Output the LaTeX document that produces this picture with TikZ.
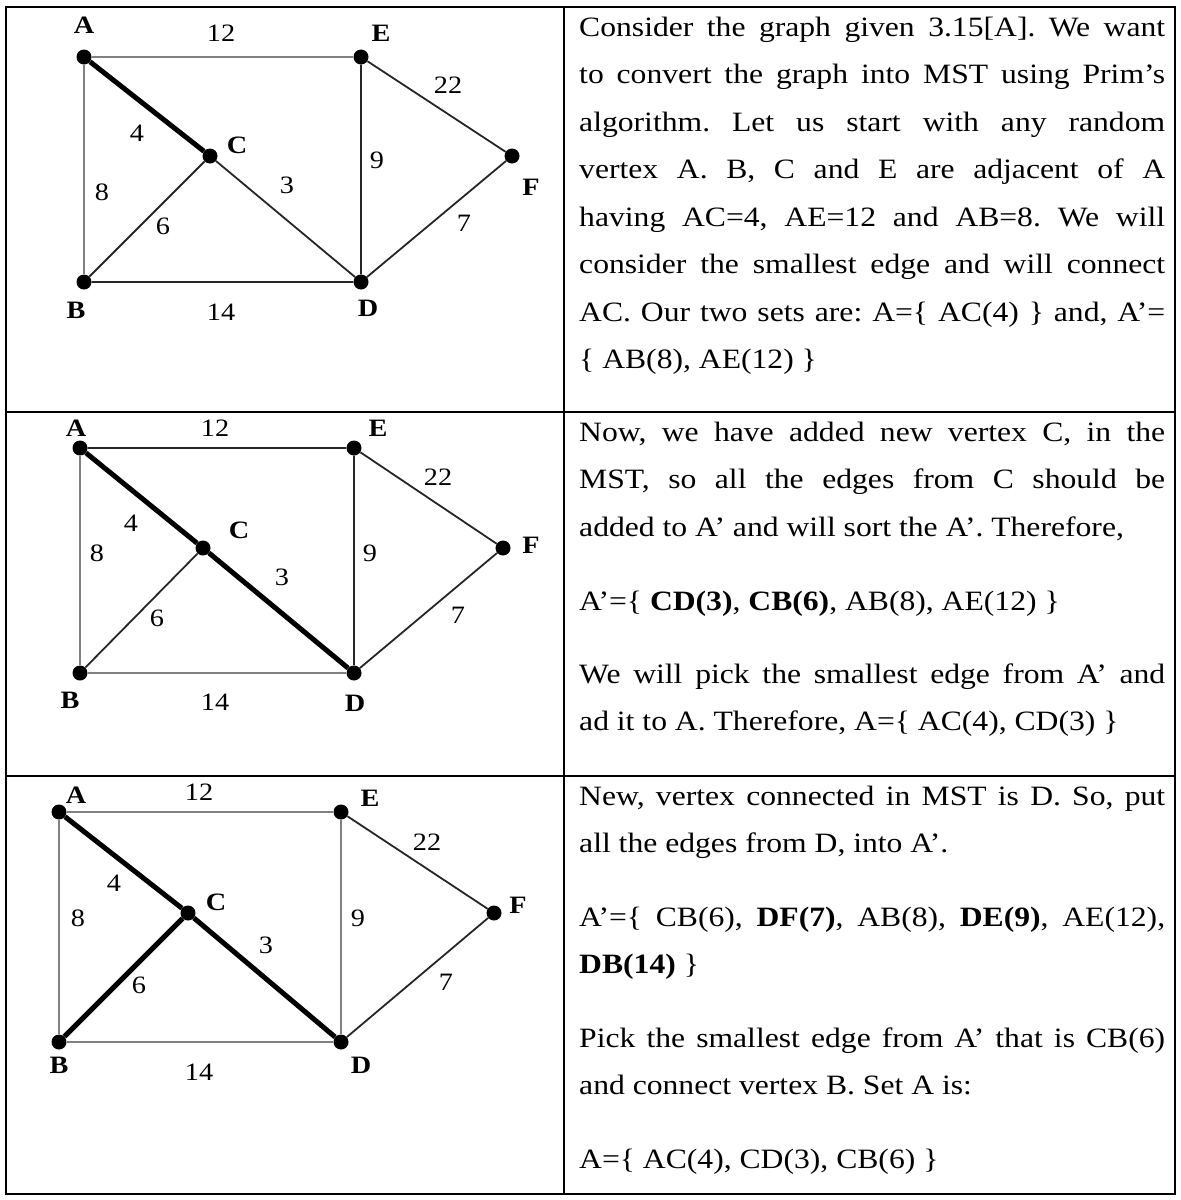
\documentclass[tikz,border=0pt]{standalone}
\usepackage{fontspec}
\setmainfont{Liberation Serif}[FakeStretch=1.13]
\tolerance=9999
\frenchspacing

\begin{document}
\begin{tikzpicture}[x=1pt,y=-1pt,
    vtx/.style={circle,fill=black,inner sep=0pt,minimum size=15pt},
    vname/.style={inner sep=0pt,font=\fontsize{25}{25}\selectfont\bfseries},
    wt/.style={inner sep=0pt,font=\fontsize{25}{25}\selectfont},
    link/.style={line width=1.8pt,black!85},
    greylink/.style={line width=2pt,black!50},
    mstlink/.style={line width=5pt,black},
    para/.style={anchor=base west,inner sep=0pt,text width=586pt,align=justify,
      font=\fontsize{28}{47.5}\selectfont}]
  \useasboundingbox (0,0) rectangle (1181,1200);
  \draw[line width=2pt] (6,7) rectangle (1175,1194);
  \draw[line width=2pt] (564,7) -- (564,1194);
  \draw[line width=2pt] (6,412) -- (1175,412);
  \draw[line width=2pt] (6,776) -- (1175,776);

  \node[vtx] (a1) at (84,57) {};
  \node[vtx] (e1) at (361,57) {};
  \node[vtx] (c1) at (210,156) {};
  \node[vtx] (f1) at (512,156) {};
  \node[vtx] (b1) at (84,282) {};
  \node[vtx] (d1) at (361,282) {};
  \node[vname] (na1) at (84,25) {A};
  \node[vname] (ne1) at (381,33) {E};
  \node[vname] (nc1) at (237,145) {C};
  \node[vname] (nf1) at (531,187) {F};
  \node[vname] (nb1) at (76,310) {B};
  \node[vname] (nd1) at (368,308) {D};
  \draw[greylink] (a1) -- (e1) (a1) -- (b1);
  \draw[link] (b1) -- (d1) (c1) -- (b1) (c1) -- (d1) (e1) -- (d1) (e1) -- (f1) (f1) -- (d1);
  \draw[mstlink] (a1) -- (c1);
  \node[wt] (w1ae) at (221,33) {12};
  \node[wt] (w1ef) at (448,85) {22};
  \node[wt] (w1ac) at (137,133) {4};
  \node[wt] (w1ab) at (102,192) {8};
  \node[wt] (w1bc) at (163,226) {6};
  \node[wt] (w1cd) at (287,185) {3};
  \node[wt] (w1de) at (377,160) {9};
  \node[wt] (w1df) at (464,223) {7};
  \node[wt] (w1bd) at (221,312) {14};

  \node[vtx] (a2) at (80,448) {};
  \node[vtx] (e2) at (354,448) {};
  \node[vtx] (c2) at (203,548) {};
  \node[vtx] (f2) at (503,548) {};
  \node[vtx] (b2) at (80,673) {};
  \node[vtx] (d2) at (354,673) {};
  \node[vname] (na2) at (76,428) {A};
  \node[vname] (ne2) at (378,428) {E};
  \node[vname] (nc2) at (239,530) {C};
  \node[vname] (nf2) at (531,545) {F};
  \node[vname] (nb2) at (70,700) {B};
  \node[vname] (nd2) at (355,703) {D};
  \draw[greylink] (a2) -- (b2) (b2) -- (d2);
  \draw[link] (a2) -- (e2) (c2) -- (b2) (e2) -- (d2) (e2) -- (f2) (f2) -- (d2);
  \draw[mstlink] (a2) -- (c2) (c2) -- (d2);
  \node[wt] (w2ae) at (215,428) {12};
  \node[wt] (w2ef) at (438,477) {22};
  \node[wt] (w2ac) at (131,523) {4};
  \node[wt] (w2ab) at (97,553) {8};
  \node[wt] (w2bc) at (157,618) {6};
  \node[wt] (w2cd) at (282,577) {3};
  \node[wt] (w2de) at (370,553) {9};
  \node[wt] (w2df) at (458,615) {7};
  \node[wt] (w2bd) at (215,702) {14};

  \node[vtx] (a3) at (59,812) {};
  \node[vtx] (e3) at (341,812) {};
  \node[vtx] (c3) at (188,913) {};
  \node[vtx] (f3) at (494,913) {};
  \node[vtx] (b3) at (59,1042) {};
  \node[vtx] (d3) at (341,1042) {};
  \node[vname] (na3) at (76,795) {A};
  \node[vname] (ne3) at (370,798) {E};
  \node[vname] (nc3) at (216,902) {C};
  \node[vname] (nf3) at (518,905) {F};
  \node[vname] (nb3) at (59,1065) {B};
  \node[vname] (nd3) at (361,1065) {D};
  \draw[greylink] (a3) -- (e3) (a3) -- (b3) (b3) -- (d3) (e3) -- (d3);
  \draw[link] (e3) -- (f3) (f3) -- (d3);
  \draw[mstlink] (a3) -- (c3) (c3) -- (d3) (c3) -- (b3);
  \node[wt] (w3ae) at (199,792) {12};
  \node[wt] (w3ef) at (427,842) {22};
  \node[wt] (w3ac) at (114,883) {4};
  \node[wt] (w3ab) at (78,918) {8};
  \node[wt] (w3bc) at (139,985) {6};
  \node[wt] (w3cd) at (266,945) {3};
  \node[wt] (w3de) at (358,918) {9};
  \node[wt] (w3df) at (446,982) {7};
  \node[wt] (w3bd) at (199,1072) {14};

  \node[para] (t1) at (579,36) {Consider the graph given 3.15[A]. We want\linebreak
    to convert the graph into MST using Prim’s\linebreak
    algorithm. Let us start with any random\linebreak
    vertex A. B, C and E are adjacent of A\linebreak
    having AC=4, AE=12 and AB=8. We will\linebreak
    consider the smallest edge and will connect\linebreak
    AC. Our two sets are: A=\{ AC(4) \} and, A’=\linebreak
    \{ AB(8), AE(12) \}};
  \node[para] (t2) at (579,441) {Now, we have added new vertex C, in the\linebreak
    MST, so all the edges from C should be\linebreak
    added to A’ and will sort the A’. Therefore,};
  \node[para] (t3) at (579,610) {A’=\{ \textbf{CD(3)}, \textbf{CB(6)}, AB(8), AE(12) \}};
  \node[para] (t4) at (579,683) {We will pick the smallest edge from A’ and\linebreak
    ad it to A. Therefore, A=\{ AC(4), CD(3) \}};
  \node[para] (t5) at (579,805) {New, vertex connected in MST is D. So, put\linebreak
    all the edges from D, into A’.};
  \node[para] (t6) at (579,926) {A’=\{ CB(6), \textbf{DF(7)}, AB(8), \textbf{DE(9)}, AE(12),\linebreak
    \textbf{DB(14)} \}};
  \node[para] (t7) at (579,1047) {Pick the smallest edge from A’ that is CB(6)\linebreak
    and connect vertex B. Set A is:};
  \node[para] (t8) at (579,1168) {A=\{ AC(4), CD(3), CB(6) \}};
\end{tikzpicture}
\end{document}
